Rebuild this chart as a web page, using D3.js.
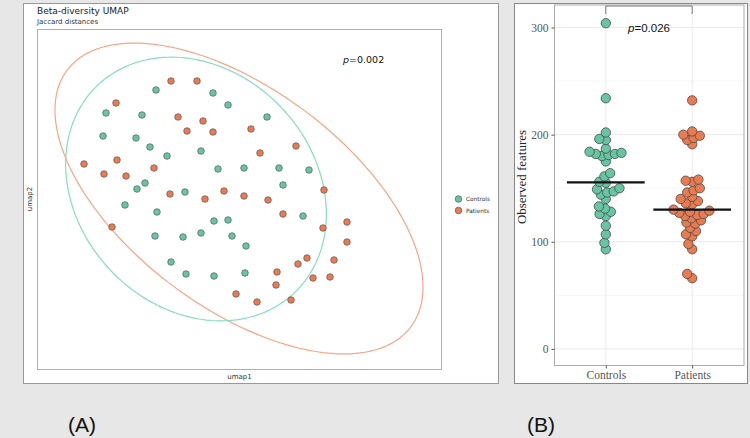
<!DOCTYPE html>
<html><head><meta charset="utf-8">
<script src="https://cdn.jsdelivr.net/npm/d3@7"></script>
<style>html,body{margin:0;padding:0;background:#e6e7e6;}svg{display:block;}</style>
</head><body>
<svg id="chart" width="750" height="438"></svg>
<script>
// ---------- Panel A data (UMAP coordinates) ----------
const groups = ["Controls", "Patients"];
const controlsUmap1 = [-0.81,-0.24,-0.09,-1.31,-0.95,0.30,-1.34,-1.01,-0.87,-0.36,-0.70,-0.19,0.07,0.42,0.72,-0.92,-1.00,-0.52,0.46,-1.12,-0.80,-0.23,-0.09,0.66,-0.82,-0.54,-0.36,-0.05,0.09,-0.66,-0.51,-0.23,0.08];
const controlsUmap2 = [1.10,1.07,0.95,0.87,0.85,0.83,0.64,0.62,0.53,0.49,0.44,0.31,0.32,0.32,0.30,0.17,0.11,0.08,0.15,-0.05,-0.12,-0.21,-0.20,-0.16,-0.36,-0.37,-0.33,-0.36,-0.46,-0.62,-0.74,-0.76,-0.73];
const patientsUmap1 = [-0.66,-0.40,-1.21,-0.59,-0.34,-0.50,-0.24,0.14,0.59,0.23,-1.53,-1.20,-0.83,-1.33,-1.11,-0.67,-0.32,-0.13,0.07,0.31,0.87,0.46,-1.25,1.10,0.86,1.10,0.70,0.61,0.97,0.40,0.76,0.93,0.39,-0.01,0.20,0.54];
const patientsUmap2 = [1.19,1.19,0.97,0.83,0.79,0.69,0.68,0.71,0.54,0.47,0.36,0.40,0.32,0.26,0.24,0.06,0.01,0.09,0.04,0.00,0.10,-0.14,-0.27,-0.22,-0.28,-0.42,-0.58,-0.64,-0.60,-0.72,-0.78,-0.77,-0.85,-0.94,-1.02,-1.00];
// confidence ellipses: [centerX, centerY, semiMajor, semiMinor, angleDeg]
const controlsEllipse = [-0.41, 0.11, 1.43, 1.18, -46.7];
const patientsEllipse = [0.02, 0.015, 2.145, 1.096, -36.7];
const pValueA = "0.002";

// ---------- Panel B data (Observed features) ----------
const controlsObserved = [304,234,202,196,195,187,184,183,182,182,181,180,175,164,161,156,155,150,149,147,146,144,140,133,131,128,126,124,115,107,99,93];
const patientsObserved = [232,203,200,199,197,195,191,158,157,156,150,148,146,142,140,138,136,135,130,129,128,127,126,125,124,122,120,118,117,113,110,107,105,98,93,70,66];
const yTicksB = [0, 100, 200, 300];
const yMinorB = [50, 150, 250];
const pValueB = "0.026";

const ptFill = {Controls: "#66c5a3", Patients: "#ea7a50"};
const ellCol = {Controls: "#86dcbc", Patients: "#f5a585"};

const svg = d3.select("#chart");
svg.append("rect").attr("width", 750).attr("height", 438).attr("fill", "#e6e7e6");

// ===================== Panel A =====================
const A = svg.append("g");
A.append("rect").attr("x", 23.5).attr("y", 3.5).attr("width", 475).attr("height", 380)
  .attr("fill", "#fff").attr("stroke", "#999").attr("stroke-width", 1);
A.append("text").attr("x", 37).attr("y", 14).attr("font-family", "DejaVu Sans").attr("font-size", 9)
  .attr("fill", "#222").text("Beta-diversity UMAP");
A.append("text").attr("x", 37).attr("y", 23.5).attr("font-family", "DejaVu Sans").attr("font-size", 7)
  .attr("fill", "#333").text("Jaccard distances");

const xA = d3.scaleLinear().domain([-2.0, 2.05]).range([37, 442]);
const yA = d3.scaleLinear().domain([-1.70, 1.71]).range([370, 29]);

A.append("rect").attr("x", 37.5).attr("y", 29.5).attr("width", 404).attr("height", 340)
  .attr("fill", "#fff").attr("stroke", "#b0b0b0").attr("stroke-width", 1);

A.append("text").attr("x", 239.5).attr("y", 379).attr("text-anchor", "middle")
  .attr("font-family", "DejaVu Sans").attr("font-size", 7).attr("fill", "#333").text("umap1");
A.append("text").attr("transform", "translate(32,199) rotate(-90)").attr("text-anchor", "middle")
  .attr("font-family", "DejaVu Sans").attr("font-size", 7).attr("fill", "#333").text("umap2");

A.append("clipPath").attr("id", "clipA").append("rect").attr("x", 37).attr("y", 29).attr("width", 405).attr("height", 341);

function ellipsePoints(e) {
  const [cx, cy, a, b, ang] = e;
  const phi = ang * Math.PI / 180;
  return d3.range(0, 361, 2).map(deg => {
    const t = deg * Math.PI / 180;
    const u = a * Math.cos(t), v = b * Math.sin(t);
    return [cx + u * Math.cos(phi) - v * Math.sin(phi), cy + u * Math.sin(phi) + v * Math.cos(phi)];
  });
}
const lineA = d3.line().x(d => xA(d[0])).y(d => yA(d[1]));
const gEll = A.append("g").attr("clip-path", "url(#clipA)");
gEll.append("path").attr("d", lineA(ellipsePoints(patientsEllipse))).attr("fill", "none")
  .attr("stroke", ellCol.Patients).attr("stroke-width", 1.2);
gEll.append("path").attr("d", lineA(ellipsePoints(controlsEllipse))).attr("fill", "none")
  .attr("stroke", ellCol.Controls).attr("stroke-width", 1.2);

const ptsA = [];
controlsUmap1.forEach((v, i) => ptsA.push({g: "Controls", x: v, y: controlsUmap2[i]}));
patientsUmap1.forEach((v, i) => ptsA.push({g: "Patients", x: v, y: patientsUmap2[i]}));
A.append("g").selectAll("circle").data(ptsA).join("circle")
  .attr("cx", d => xA(d.x)).attr("cy", d => yA(d.y)).attr("r", 3.3)
  .attr("fill", d => ptFill[d.g]).attr("stroke", "#5a5a5a").attr("stroke-width", 0.7);

const pA = A.append("text").attr("x", 343).attr("y", 63).attr("font-family", "DejaVu Sans")
  .attr("font-size", 9.5).attr("fill", "#111");
pA.append("tspan").attr("font-style", "italic").text("p");
pA.append("tspan").text("=" + pValueA);

// legend
const leg = A.append("g");
groups.forEach((g, i) => {
  leg.append("circle").attr("cx", 458.5).attr("cy", 199 + i * 11.5).attr("r", 3.3)
    .attr("fill", ptFill[g]).attr("stroke", "#5a5a5a").attr("stroke-width", 0.7);
  leg.append("text").attr("x", 466).attr("y", 201.2 + i * 11.5).attr("font-family", "DejaVu Sans")
    .attr("font-size", 5.8).attr("fill", "#333").text(g);
});

// ===================== Panel B =====================
const B = svg.append("g");
B.append("rect").attr("x", 514.5).attr("y", 3.5).attr("width", 233).attr("height", 380)
  .attr("fill", "#fff").attr("stroke", "#888").attr("stroke-width", 1);

const L = 554, R = 744, T = 5, Bt = 365;
const yB = d3.scaleLinear().domain([-15, 321]).range([Bt, T]);
const xB = d3.scalePoint().domain(groups).range([L, R]).padding(0.6);

const gridB = B.append("g");
yMinorB.forEach(v => gridB.append("line").attr("x1", L).attr("x2", R).attr("y1", yB(v)).attr("y2", yB(v))
  .attr("stroke", "#f4f4f4").attr("stroke-width", 0.8));
yTicksB.forEach(v => gridB.append("line").attr("x1", L).attr("x2", R).attr("y1", yB(v)).attr("y2", yB(v))
  .attr("stroke", "#ebebeb").attr("stroke-width", 1));
groups.forEach(g => gridB.append("line").attr("x1", xB(g)).attr("x2", xB(g)).attr("y1", T).attr("y2", Bt)
  .attr("stroke", "#ebebeb").attr("stroke-width", 1));
B.append("rect").attr("x", L + 0.5).attr("y", T).attr("width", R - L - 0.5).attr("height", Bt - T + 0.5)
  .attr("fill", "none").attr("stroke", "#aaa").attr("stroke-width", 1);

const axL = B.append("g").attr("transform", `translate(${L + 0.5},0)`)
  .call(d3.axisLeft(yB).tickValues(yTicksB).tickSize(3).tickPadding(3));
axL.select(".domain").remove();
axL.selectAll(".tick line").attr("stroke", "#555");
axL.selectAll(".tick text").attr("font-family", "Liberation Serif").attr("font-size", 11.5).attr("fill", "#555");

const axBt = B.append("g").attr("transform", `translate(0,${Bt + 0.5})`)
  .call(d3.axisBottom(xB).tickSize(3).tickPadding(2));
axBt.select(".domain").remove();
axBt.selectAll(".tick line").attr("stroke", "#555");
axBt.selectAll(".tick text").attr("font-family", "Liberation Serif").attr("font-size", 11.5).attr("fill", "#555");

B.append("text").attr("transform", "translate(526,177) rotate(-90)").attr("text-anchor", "middle")
  .attr("font-family", "Liberation Serif").attr("font-size", 13).attr("fill", "#222").text("Observed features");

// beeswarm layout (points allowed to overlap slightly, as in the original)
const rB = 4.7;
function swarm(values, cx) {
  const sorted = values.map(v => ({v, py: yB(v)})).sort((a, b) => a.v - b.v);
  const placed = [];
  const d = rB * 2 * 0.7;
  sorted.forEach(p => {
    const near = placed.filter(q => Math.abs(q.py - p.py) < d);
    const cands = [0];
    near.forEach(q => {
      const dx = Math.sqrt(d * d - (q.py - p.py) ** 2);
      cands.push(q.dx + dx, q.dx - dx);
    });
    cands.sort((a, b) => Math.abs(a) - Math.abs(b) || a - b);
    let best = 0;
    for (const c of cands) {
      if (near.every(q => (q.dx - c) ** 2 + (q.py - p.py) ** 2 >= d * d - 0.01)) { best = c; break; }
    }
    p.dx = best;
    placed.push(p);
  });
  return placed.map(p => ({v: p.v, px: cx + p.dx, py: p.py}));
}
const swC = swarm(controlsObserved, xB("Controls")).map(p => ({...p, g: "Controls"}));
const swP = swarm(patientsObserved, xB("Patients")).map(p => ({...p, g: "Patients"}));
B.append("g").selectAll("circle").data(swC.concat(swP)).join("circle")
  .attr("cx", d => d.px).attr("cy", d => d.py).attr("r", rB)
  .attr("fill", d => ptFill[d.g]).attr("stroke", "#4a4a4a").attr("stroke-width", 0.8);

// median lines
const medians = [{g: "Controls", m: d3.median(controlsObserved)}, {g: "Patients", m: d3.median(patientsObserved)}];
const halfW = xB.step() * 0.45;
B.append("g").selectAll("line").data(medians).join("line")
  .attr("x1", d => xB(d.g) - halfW).attr("x2", d => xB(d.g) + halfW)
  .attr("y1", d => yB(d.m)).attr("y2", d => yB(d.m))
  .attr("stroke", "#111").attr("stroke-width", 2.2);

// significance bracket
const yBr = 6;
B.append("path").attr("d", `M${xB("Controls")},${yBr + 8}V${yBr}H${xB("Patients")}V${yBr + 8}`)
  .attr("fill", "none").attr("stroke", "#777").attr("stroke-width", 1);
const pB = B.append("text").attr("x", (xB("Controls") + xB("Patients")) / 2).attr("y", 32)
  .attr("text-anchor", "middle").attr("font-family", "Liberation Sans").attr("font-size", 11.5).attr("fill", "#111");
pB.append("tspan").attr("font-style", "italic").text("p");
pB.append("tspan").text("=" + pValueB);

// panel labels
svg.append("text").attr("x", 82).attr("y", 432).attr("text-anchor", "middle").attr("font-family", "Liberation Sans")
  .attr("font-size", 21).attr("fill", "#111").text("(A)");
svg.append("text").attr("x", 541).attr("y", 432).attr("text-anchor", "middle").attr("font-family", "Liberation Sans")
  .attr("font-size", 21).attr("fill", "#111").text("(B)");
</script>
</body></html>
